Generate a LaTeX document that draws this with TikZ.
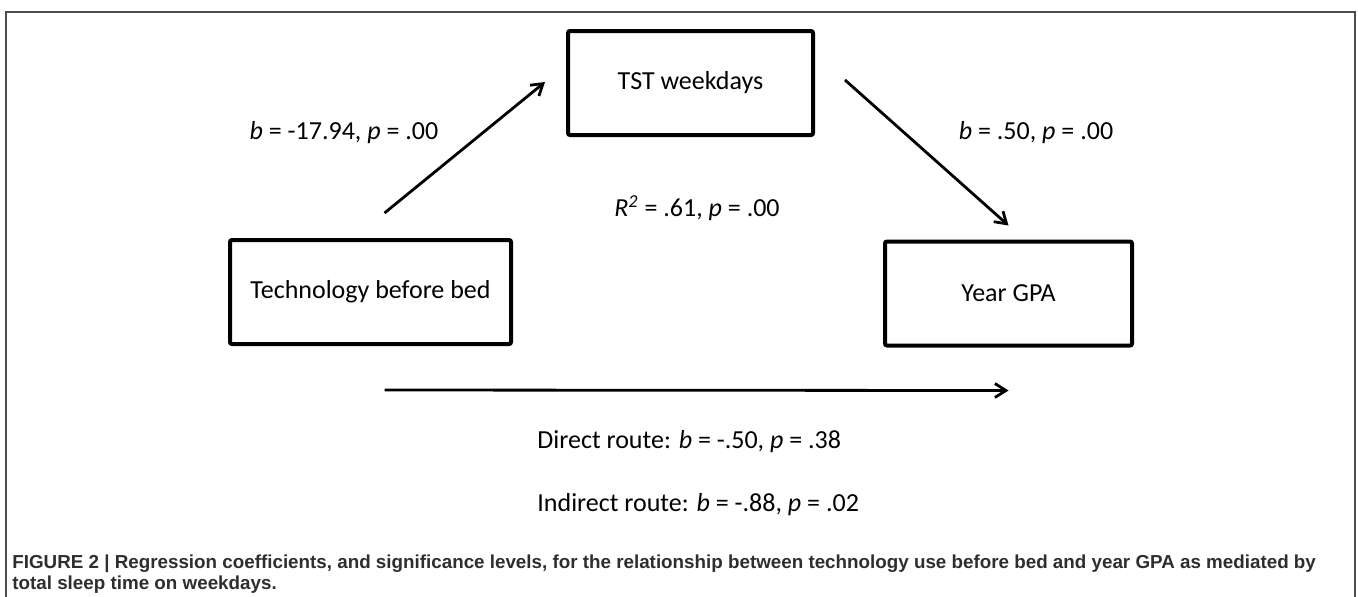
\documentclass[tikz,border=0pt]{standalone}
\usepackage{fontspec}
\setmainfont{Carlito}
\newfontfamily\capfont{Liberation Sans}
\usepackage{tikz}
\usetikzlibrary{arrows.meta, positioning, calc}

\begin{document}
\begin{tikzpicture}[
        x=0.5pt, y=-0.5pt,
        var/.style={rectangle, draw=black, line width=2pt, rounded corners=1pt, minimum height=52pt, align=center, font=\fontsize{13}{15}\selectfont},
        coef/.style={font=\fontsize{13}{15}\selectfont, inner sep=0pt},
        arrow/.style={-{Straight Barb[length=5.5pt, width=7pt, line width=1.4pt]}, line width=1.4pt},
        caption/.style={font=\capfont\bfseries\fontsize{9.4}{10.5}\selectfont, text=black!82, align=left, inner sep=0pt},
        frame/.style={draw=black!70, line width=0.8pt},
    ]
        \useasboundingbox (0,0) rectangle (1358,596);

        % Panel frame (open at the bottom)
        \draw[frame] (6,600) -- (6,12) -- (1355,12) -- (1355,600);

        % Variables
        \node[var, minimum width=122.5pt] (tst) at (690.5,83) {TST weekdays};
        \node[var, minimum width=140.5pt] (tech) at (370.5,292) {Technology before bed};
        \node[var, minimum width=123.5pt] (gpa) at (1008.5,293.5) {Year GPA};

        % Free ends of the paths
        \coordinate (a1s) at ([shift={(14,-25)}]tech.north);
        \coordinate (a1e) at ([shift={(-21,-1)}]tst.west);
        \coordinate (a2s) at ([shift={(30,-3)}]tst.east);
        \coordinate (a2e) at ([shift={(0,-14)}]gpa.north);
        \coordinate (a3s) at ([shift={(14,44)}]tech.south);
        \coordinate (a3e) at ([shift={(0,43)}]gpa.south);

        % Paths
        \draw[arrow] (a1s) -- (a1e);
        \draw[arrow] (a2s) -- (a2e);
        \draw[arrow] (a3s) -- (a3e);

        % Coefficients
        \node[coef] (ca) at (344,133) {\textit{b} = -17.94, \textit{p} = .00};
        \node[coef] (cb) at (1036,133) {\textit{b} = .50, \textit{p} = .00};
        \node[coef] (rsq) at (697,208) {\textit{R\textsuperscript{2}} = .61, \textit{p} = .00};
        \node[coef, anchor=west] (direct) at (537,442) {Direct route: \textit{b} = -.50, \textit{p} = .38};
        \node[coef, anchor=west] (indirect) at (537,505) {Indirect route: \textit{b} = -.88, \textit{p} = .02};

        % Caption
        \node[caption, anchor=north west] (cap) at (12,554) {FIGURE 2 | Regression coefficients, and significance levels, for the relationship between technology use before bed and year GPA as mediated by\\total sleep time on weekdays.};
    \end{tikzpicture}
\end{document}
